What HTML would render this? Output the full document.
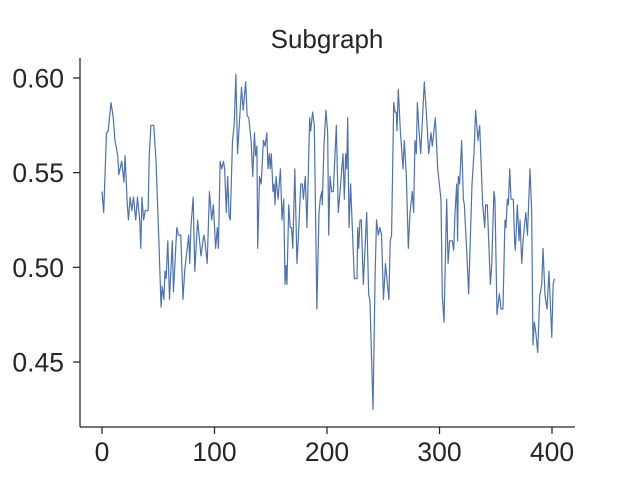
<!DOCTYPE html>
<html><head><meta charset="utf-8"><style>
html,body{margin:0;padding:0;background:#fff;}
svg{display:block;font-family:"Liberation Sans",Arial,sans-serif;}
</style></head><body>
<svg id="chart" width="640" height="480" viewBox="0 0 640 480" xmlns="http://www.w3.org/2000/svg">
<text x="327" y="48" font-size="26" text-anchor="middle" fill="#262626">Subgraph</text>
<g id="axes"></g>
<path id="line" fill="none" stroke="#4c72b0" stroke-width="1.2" stroke-linejoin="round"/>
</svg>
<script>
const xTicks=[0,100,200,300,400];
const yTicks=[0.45,0.50,0.55,0.60];
const yTickLabels=["0.45","0.50","0.55","0.60"];
const xs=[0,1.5,4,5.5,8,10,11.5,14,15,17.5,19.5,20.5,22.5,23.5,25,26.5,28,30,31.5,33.5,34.5,35.5,37,38.5,41,42,43.5,46,48,50.5,52.5,53.5,55,56,57,58.5,60,62.5,63.5,66.5,68,70,72,73.5,77,78,79,81,82.5,85,88,90.5,91.5,93.5,95.5,97.5,99,101,102.5,103.5,105,106.4,108,109,110.5,111.7,113,114,116,117.5,119,120.5,124,125.5,127.7,129,130.5,132.5,134,135.5,136.5,137.7,138.4,140,141.5,143.5,145,146.5,147.5,148.7,149.6,150.5,152,153,153.8,154.7,156.5,158.6,160,161.5,162.7,163.5,164.4,166,167.3,168.5,169.6,171.4,173.3,174.4,176.7,178,179,180.7,182.2,184.6,185.5,187.2,188.7,191,192.9,194,195.3,195.8,197.3,199,200.6,201.5,202.7,204.1,205.6,208.3,210,211.6,214.2,215.4,216.6,217.5,218.4,219.6,221,222.5,224.3,226.7,227.3,228.2,229.3,230.5,232.3,235.3,237,238.2,240.9,242.7,244,245.6,247,248.5,250.2,252,255,256.2,257.4,259.3,260.4,261.6,262.2,263.4,265.2,267.6,268.7,270.5,272.3,273.8,275.8,277,278.2,279.4,280.3,281.5,283.3,286.5,288.6,290.4,292.4,293.6,296.3,298.4,301.3,302.5,304,306.4,307.6,309,311.4,312.6,313.8,315.3,316.1,316.7,317.9,319.7,321.2,322.1,324.4,325.9,328.9,330.7,332.1,334.2,335.7,338.4,340.2,341,342.5,345.2,346.4,348.4,349.3,351.1,353.2,354.7,356.4,358.2,359.1,360.3,361.2,362.4,363.6,365.6,366.8,367.4,369.2,370.7,371.6,373.1,374.3,376.7,378.2,380.4,381.9,383.1,384.3,385.5,387.3,389.1,390.9,392,393.8,395.6,397.3,399.8,401,402.2];
const ys=[0.540,0.529,0.571,0.572,0.587,0.579,0.567,0.559,0.549,0.556,0.545,0.559,0.533,0.525,0.537,0.530,0.537,0.525,0.537,0.525,0.510,0.537,0.525,0.530,0.530,0.559,0.575,0.575,0.556,0.515,0.479,0.490,0.483,0.498,0.494,0.514,0.483,0.514,0.487,0.521,0.517,0.517,0.483,0.498,0.517,0.502,0.521,0.537,0.498,0.525,0.506,0.517,0.514,0.502,0.540,0.525,0.533,0.510,0.521,0.510,0.556,0.552,0.556,0.552,0.529,0.548,0.527,0.525,0.567,0.575,0.602,0.560,0.595,0.583,0.598,0.580,0.579,0.567,0.548,0.571,0.559,0.564,0.510,0.548,0.544,0.567,0.564,0.571,0.552,0.560,0.552,0.560,0.540,0.544,0.533,0.548,0.536,0.552,0.525,0.536,0.491,0.501,0.491,0.533,0.521,0.521,0.510,0.552,0.502,0.514,0.544,0.544,0.536,0.548,0.521,0.579,0.572,0.582,0.575,0.478,0.529,0.536,0.540,0.533,0.564,0.583,0.571,0.517,0.548,0.540,0.540,0.575,0.529,0.540,0.560,0.536,0.560,0.552,0.579,0.521,0.544,0.521,0.494,0.494,0.521,0.510,0.525,0.525,0.491,0.529,0.486,0.482,0.425,0.494,0.525,0.517,0.521,0.517,0.483,0.502,0.483,0.514,0.517,0.587,0.582,0.582,0.572,0.594,0.572,0.552,0.567,0.549,0.510,0.529,0.540,0.529,0.567,0.560,0.587,0.575,0.560,0.598,0.579,0.560,0.571,0.564,0.579,0.552,0.536,0.485,0.471,0.536,0.502,0.514,0.514,0.509,0.529,0.544,0.514,0.548,0.544,0.567,0.536,0.533,0.506,0.486,0.544,0.561,0.583,0.567,0.575,0.533,0.521,0.533,0.533,0.491,0.501,0.540,0.536,0.475,0.486,0.478,0.478,0.525,0.521,0.536,0.533,0.552,0.536,0.536,0.513,0.509,0.533,0.514,0.525,0.502,0.514,0.529,0.517,0.552,0.530,0.459,0.471,0.466,0.455,0.485,0.491,0.510,0.485,0.478,0.498,0.463,0.491,0.494];

const X=v=>102+v*1.125;
const Y=v=>78+(0.60-v)*1893.3;
const NS="http://www.w3.org/2000/svg";
const axes=document.getElementById('axes');
function mk(tag,attrs){const e=document.createElementNS(NS,tag);for(const k in attrs)e.setAttribute(k,attrs[k]);axes.appendChild(e);return e;}
const sl=mk('line',{x1:80,y1:58,x2:80,y2:427,stroke:'#262626','stroke-width':1.25});


const sb=mk('line',{x1:80,y1:427,x2:575,y2:427,stroke:'#262626','stroke-width':1.25});


xTicks.forEach(t=>{
  const tk=mk('line',{x1:X(t),y1:427,x2:X(t),y2:434,stroke:'#262626','stroke-width':1.25});
  
  
  const tx=mk('text',{x:X(t),y:461,'font-size':26.5,'text-anchor':'middle',fill:'#262626'});
  
  
  tx.textContent=String(t);
});
yTicks.forEach((t,i)=>{
  const tk=mk('line',{x1:73,y1:Y(t),x2:80,y2:Y(t),stroke:'#262626','stroke-width':1.25});
  
  
  const tx=mk('text',{x:64,y:Y(t)+9.5,'font-size':26.5,'text-anchor':'end',fill:'#262626'});
  
  
  tx.textContent=yTickLabels[i];
});
let d='';
xs.forEach((x,i)=>{d+=(i?'L':'M')+X(x).toFixed(2)+','+Y(ys[i]).toFixed(2);});
document.getElementById('line').setAttribute('d',d);
</script>
</body></html>
